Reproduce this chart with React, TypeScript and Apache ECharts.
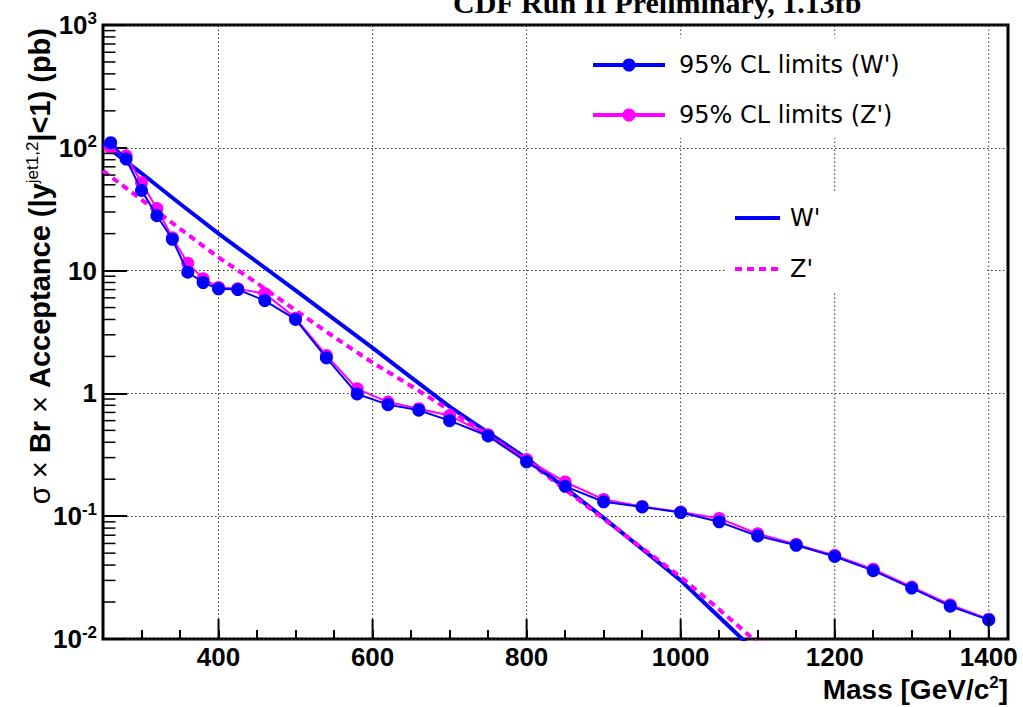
import React, { useEffect, useRef } from 'react';
import * as echarts from 'echarts';

// ---- data ----
const massPoints = [260, 280, 300, 320, 340, 360, 380, 400, 425, 460, 500, 540, 580, 620, 660, 700, 750, 800, 850, 900, 950, 1000, 1050, 1100, 1150, 1200, 1250, 1300, 1350, 1400];
const wLimits = [110, 81, 45, 28, 18, 9.7, 8.0, 7.1, 7.0, 5.7, 4.0, 1.95, 0.99, 0.81, 0.73, 0.6, 0.45, 0.277, 0.175, 0.131, 0.119, 0.107, 0.09, 0.069, 0.058, 0.047, 0.036, 0.026, 0.0185, 0.0143];
const zLimits = [100, 86, 52, 32, 18.5, 11.5, 8.6, 7.3, 7.1, 6.5, 4.1, 2.04, 1.09, 0.85, 0.75, 0.66, 0.46, 0.289, 0.19, 0.137, 0.12, 0.108, 0.096, 0.072, 0.059, 0.048, 0.037, 0.0265, 0.019, 0.0145];
const theoryMass = [250, 300, 350, 400, 450, 500, 550, 600, 650, 700, 750, 800, 850, 900, 950, 1000, 1050, 1100];
const wTheory = [108, 62, 35, 20, 11.75, 6.9, 4.03, 2.35, 1.35, 0.78, 0.48, 0.296, 0.17, 0.097, 0.054, 0.03, 0.0151, 0.0076];
const zTheory = [65, 37.8, 21.9, 12.8, 7.9, 4.75, 2.88, 1.78, 1.15, 0.73, 0.456, 0.285, 0.165, 0.095, 0.055, 0.032, 0.0174, 0.0093];

// ---- axis ticks ----
const X_MIN = 250;
const X_MAX = 1425;
const Y_MIN = 0.01;
const Y_MAX = 1000;
const xMajorTicks = [400, 600, 800, 1000, 1200, 1400];
const yMinorTicks = [
  0.02, 0.03, 0.04, 0.05, 0.06, 0.07, 0.08, 0.09,
  0.2, 0.3, 0.4, 0.5, 0.6, 0.7, 0.8, 0.9,
  2, 3, 4, 5, 6, 7, 8, 9,
  20, 30, 40, 50, 60, 70, 80, 90,
  200, 300, 400, 500, 600, 700, 800, 900,
];

const titleText = 'CDF Run II Preliminary, 1.13fb';
const legendNames = ["95% CL limits (W')", "95% CL limits (Z')", "W'", "Z'"];

const BLUE = '#0000ff';
const MAGENTA = '#ff00ff';
const SANS = 'Liberation Sans';
const LEGEND_FONT = 'DejaVu Sans';

export default function App() {
  const ref = useRef<HTMLDivElement>(null);

  useEffect(() => {
    if (!ref.current) return;
    const chart = echarts.init(ref.current, undefined, { renderer: 'svg' });

    const pair = (xs: number[], ys: number[]) => xs.map((x, i) => [x, ys[i]]);

    const option: any = {
      animation: false,
      backgroundColor: '#fff',
      grid: {
        left: 103, top: 25, right: 15, bottom: 68,
        show: true, borderColor: '#000', borderWidth: 3, backgroundColor: 'transparent',
      },
      xAxis: {
        type: 'value', min: X_MIN, max: X_MAX, interval: 50,
        axisLine: { show: false },
        axisTick: { show: true, inside: true, length: 9, lineStyle: { color: '#000', width: 2 } },
        axisLabel: {
          formatter: (v: number) => (xMajorTicks.includes(v) ? String(v) : ''),
          fontSize: 26, fontWeight: 'bold', fontFamily: SANS, color: '#000', margin: 6, lineHeight: 24,
        },
        splitLine: { show: false },
      },
      yAxis: {
        type: 'log', logBase: 10, min: Y_MIN, max: Y_MAX,
        axisLine: { show: false },
        axisTick: { show: true, inside: true, length: 24, lineStyle: { color: '#000', width: 2 } },
        splitLine: { show: true, lineStyle: { color: '#333', width: 1, type: [1.5, 2.5] } },
        axisLabel: {
          margin: 6,
          formatter: (v: number) => {
            const e = Math.round(Math.log10(v));
            if (e === 0) return '{a|1}';
            if (e === 1) return '{a|10}';
            return '{a|10}{s|' + e + '}';
          },
          rich: {
            a: { fontSize: 26, fontWeight: 'bold', fontFamily: SANS, color: '#000', lineHeight: 30 },
            s: { fontSize: 17, fontWeight: 'bold', fontFamily: SANS, color: '#000', lineHeight: 17, verticalAlign: 'top' },
          },
        },
      },
      series: [
        {
          type: 'custom', name: 'xGrid', silent: true, z: 1,
          data: xMajorTicks.map((v) => [v, Y_MIN]),
          renderItem: (_p: any, api: any) => {
            const a = api.coord([api.value(0), Y_MIN]);
            const b = api.coord([api.value(0), Y_MAX]);
            return {
              type: 'line',
              shape: { x1: a[0], y1: a[1], x2: b[0], y2: b[1] },
              style: { stroke: '#333', lineWidth: 1, lineDash: [1.5, 2.5] },
            };
          },
        },
        {
          type: 'custom', name: 'xMajorTicks', silent: true, z: 10,
          data: xMajorTicks.map((v) => [v, Y_MIN]),
          renderItem: (_p: any, api: any) => {
            const a = api.coord([api.value(0), Y_MIN]);
            return {
              type: 'line',
              shape: { x1: a[0], y1: a[1], x2: a[0], y2: a[1] - 20 },
              style: { stroke: '#000', lineWidth: 2 },
            };
          },
        },
        {
          type: 'custom', name: 'yMinorTicks', silent: true, z: 10,
          data: yMinorTicks.map((v) => [X_MIN, v]),
          renderItem: (_p: any, api: any) => {
            const a = api.coord([X_MIN, api.value(1)]);
            return {
              type: 'line',
              shape: { x1: a[0], y1: a[1], x2: a[0] + 12.5, y2: a[1] },
              style: { stroke: '#000', lineWidth: 1.5 },
            };
          },
        },
        {
          type: 'line', name: legendNames[2], data: pair(theoryMass, wTheory),
          showSymbol: false, symbol: 'none', z: 3,
          lineStyle: { color: BLUE, width: 4 },
        },
        {
          type: 'line', name: legendNames[3], data: pair(theoryMass, zTheory),
          showSymbol: false, symbol: 'none', z: 4,
          lineStyle: { color: MAGENTA, width: 4, type: [7, 5] },
        },
        {
          type: 'line', name: legendNames[1], data: pair(massPoints, zLimits),
          symbol: 'circle', symbolSize: 13, z: 5,
          itemStyle: { color: MAGENTA },
          lineStyle: { color: MAGENTA, width: 2 },
        },
        {
          type: 'line', name: legendNames[0], data: pair(massPoints, wLimits),
          symbol: 'circle', symbolSize: 13, z: 6,
          itemStyle: { color: BLUE },
          lineStyle: { color: BLUE, width: 2 },
        },
      ],
      graphic: [
        // title (cut at the top of the page, as in the reference)
        {
          type: 'text', x: 453, y: 2, z: 20,
          style: {
            text: titleText,
            verticalAlign: 'middle',
            fontSize: 30, fontWeight: 'bold', fontFamily: 'Liberation Serif', fill: '#000',
          },
        },
        // y axis title
        {
          type: 'text', x: 40, y: 28, rotation: Math.PI / 2, z: 20,
          style: {
            text: '{n|σ × }{b|Br}{n| × }{b|Acceptance (|y}{s|jet1,2}{b||<1) (pb)}',
            align: 'right', verticalAlign: 'middle',
            rich: {
              n: { fontSize: 29, fontFamily: SANS, fill: '#000', lineHeight: 32 },
              b: { fontSize: 29, fontWeight: 'bold', fontFamily: SANS, fill: '#000', lineHeight: 32 },
              s: { fontSize: 17, fontFamily: SANS, fill: '#000', lineHeight: 17, verticalAlign: 'top' },
            },
          },
        },
        // x axis title
        {
          type: 'text', x: 1008, y: 689, z: 20,
          style: {
            text: '{b|Mass [GeV/c}{s|2}{b|]}',
            align: 'right', verticalAlign: 'middle',
            rich: {
              b: { fontSize: 28, fontWeight: 'bold', fontFamily: SANS, fill: '#000', lineHeight: 30 },
              s: { fontSize: 17, fontWeight: 'bold', fontFamily: SANS, fill: '#000', lineHeight: 17, verticalAlign: 'top' },
            },
          },
        },
        // legend boxes (white, hide the grid)
        { type: 'rect', z: 15, shape: { x: 545, y: 38, width: 440, height: 100 }, style: { fill: '#fff' } },
        { type: 'rect', z: 15, shape: { x: 725, y: 193, width: 260, height: 100 }, style: { fill: '#fff' } },
        // legend 1
        { type: 'line', z: 16, shape: { x1: 593, y1: 65, x2: 665, y2: 65 }, style: { stroke: BLUE, lineWidth: 4 } },
        { type: 'circle', z: 17, shape: { cx: 629, cy: 65, r: 6.5 }, style: { fill: BLUE } },
        { type: 'text', z: 16, x: 679, y: 65, style: { text: legendNames[0], fontSize: 24, fontFamily: LEGEND_FONT, fill: '#000', verticalAlign: 'middle' } },
        { type: 'line', z: 16, shape: { x1: 593, y1: 115, x2: 665, y2: 115 }, style: { stroke: MAGENTA, lineWidth: 4 } },
        { type: 'circle', z: 17, shape: { cx: 629, cy: 115, r: 6.5 }, style: { fill: MAGENTA } },
        { type: 'text', z: 16, x: 679, y: 115, style: { text: legendNames[1], fontSize: 24, fontFamily: LEGEND_FONT, fill: '#000', verticalAlign: 'middle' } },
        // legend 2
        { type: 'line', z: 16, shape: { x1: 735, y1: 218, x2: 780, y2: 218 }, style: { stroke: BLUE, lineWidth: 4 } },
        { type: 'text', z: 16, x: 790, y: 218, style: { text: legendNames[2], fontSize: 24, fontFamily: LEGEND_FONT, fill: '#000', verticalAlign: 'middle' } },
        { type: 'line', z: 16, shape: { x1: 735, y1: 269, x2: 780, y2: 269 }, style: { stroke: MAGENTA, lineWidth: 4, lineDash: [7, 5] } },
        { type: 'text', z: 16, x: 790, y: 269, style: { text: legendNames[3], fontSize: 24, fontFamily: LEGEND_FONT, fill: '#000', verticalAlign: 'middle' } },
      ],
    };

    chart.setOption(option);
    return () => chart.dispose();
  }, []);

  return (
    <div
      ref={ref}
      style={{ position: 'fixed', left: 0, top: 0, width: 1023, height: 707, background: '#fff' }}
    />
  );
}
